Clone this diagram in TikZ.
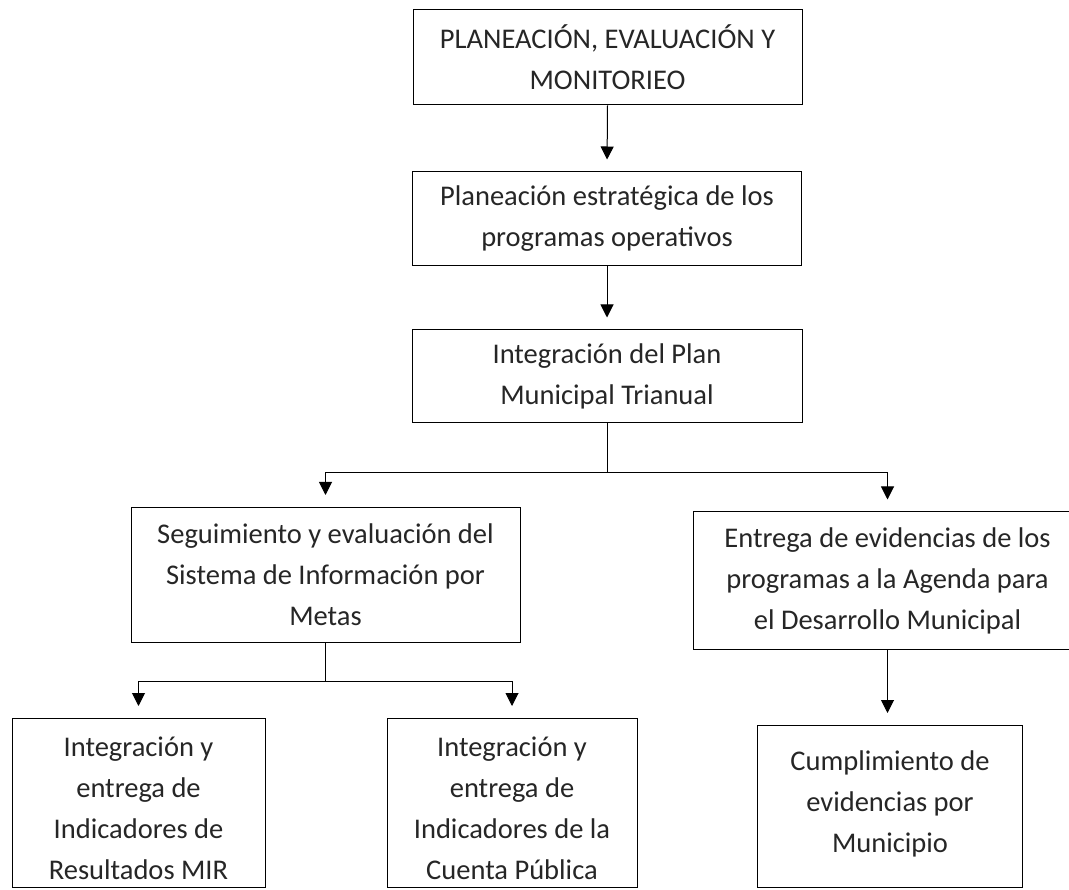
\documentclass[tikz,border=0pt]{standalone}
\usepackage{fontspec}
\setmainfont{Carlito}
\usepackage{tikz}
\usetikzlibrary{arrows.meta,calc}

\tikzset{
  caja/.style={draw=black, line width=1pt, align=center, inner sep=6pt,
    font=\fontsize{28.5}{41}\selectfont, text=black!85},
  cajabaja/.style={caja, anchor=north, inner ysep=0pt},
  flecha/.style={draw=black, line width=1pt, -{Triangle[width=13pt,length=13pt]}, shorten >=12pt},
  linea/.style={draw=black, line width=1pt}
}

\begin{document}
\begin{tikzpicture}[x=1pt,y=-1pt]
\clip (0,0) rectangle (1069,890);
\fill[white] (0,0) rectangle (1069,890);
% niveles superiores
\node[caja, minimum width=389pt, minimum height=95pt] (pem) at (607.5,57.5) {PLANEACIÓN, EVALUACIÓN Y\\MONITORIEO};
\node[caja, minimum width=389pt, minimum height=94pt] (pest) at (607,219) {Planeación estratégica de los\\programas operativos};
\node[caja, minimum width=390pt, minimum height=93pt] (pmt) at (607,376.5) {Integración del Plan\\Municipal Trianual};
% segundo nivel
\node[caja, minimum width=389pt, minimum height=135pt] (seg) at (325.5,575) {Seguimiento y evaluación del\\Sistema de Información por\\Metas};
\node[caja, minimum width=389pt, minimum height=137pt] (ent) at (887.5,580.5) {Entrega de evidencias de los\\programas a la Agenda para\\el Desarrollo Municipal};
% tercer nivel
\node[cajabaja, minimum width=253pt, text height=161pt, text depth=8pt] (mir) at (138.5,718) {Integración y\\entrega de\\Indicadores de\\Resultados MIR};
\node[cajabaja, minimum width=250pt, text height=161pt, text depth=8pt] (cp) at (512,718) {Integración y\\entrega de\\Indicadores de la\\Cuenta Pública};
\node[cajabaja, minimum width=265pt, text height=127pt, text depth=35pt] (cum) at (890,725) {Cumplimiento de\\evidencias por\\Municipio};
% conectores
\draw[flecha] (pem.south) -- (pest.north);
\draw[flecha] (pest.south) -- (pmt.north);
\draw[linea] (pmt.south) -- ++(0,49) coordinate (r1);
\draw[flecha] (r1) -| (seg.north);
\draw[flecha] (r1) -| (ent.north);
\draw[linea] (seg.south) -- ++(0,38) coordinate (r2);
\draw[flecha] (r2) -| (mir.north);
\draw[flecha] (r2) -| (cp.north);
\draw[flecha] (ent.south) -- (ent.south |- cum.north);
\end{tikzpicture}
\end{document}
